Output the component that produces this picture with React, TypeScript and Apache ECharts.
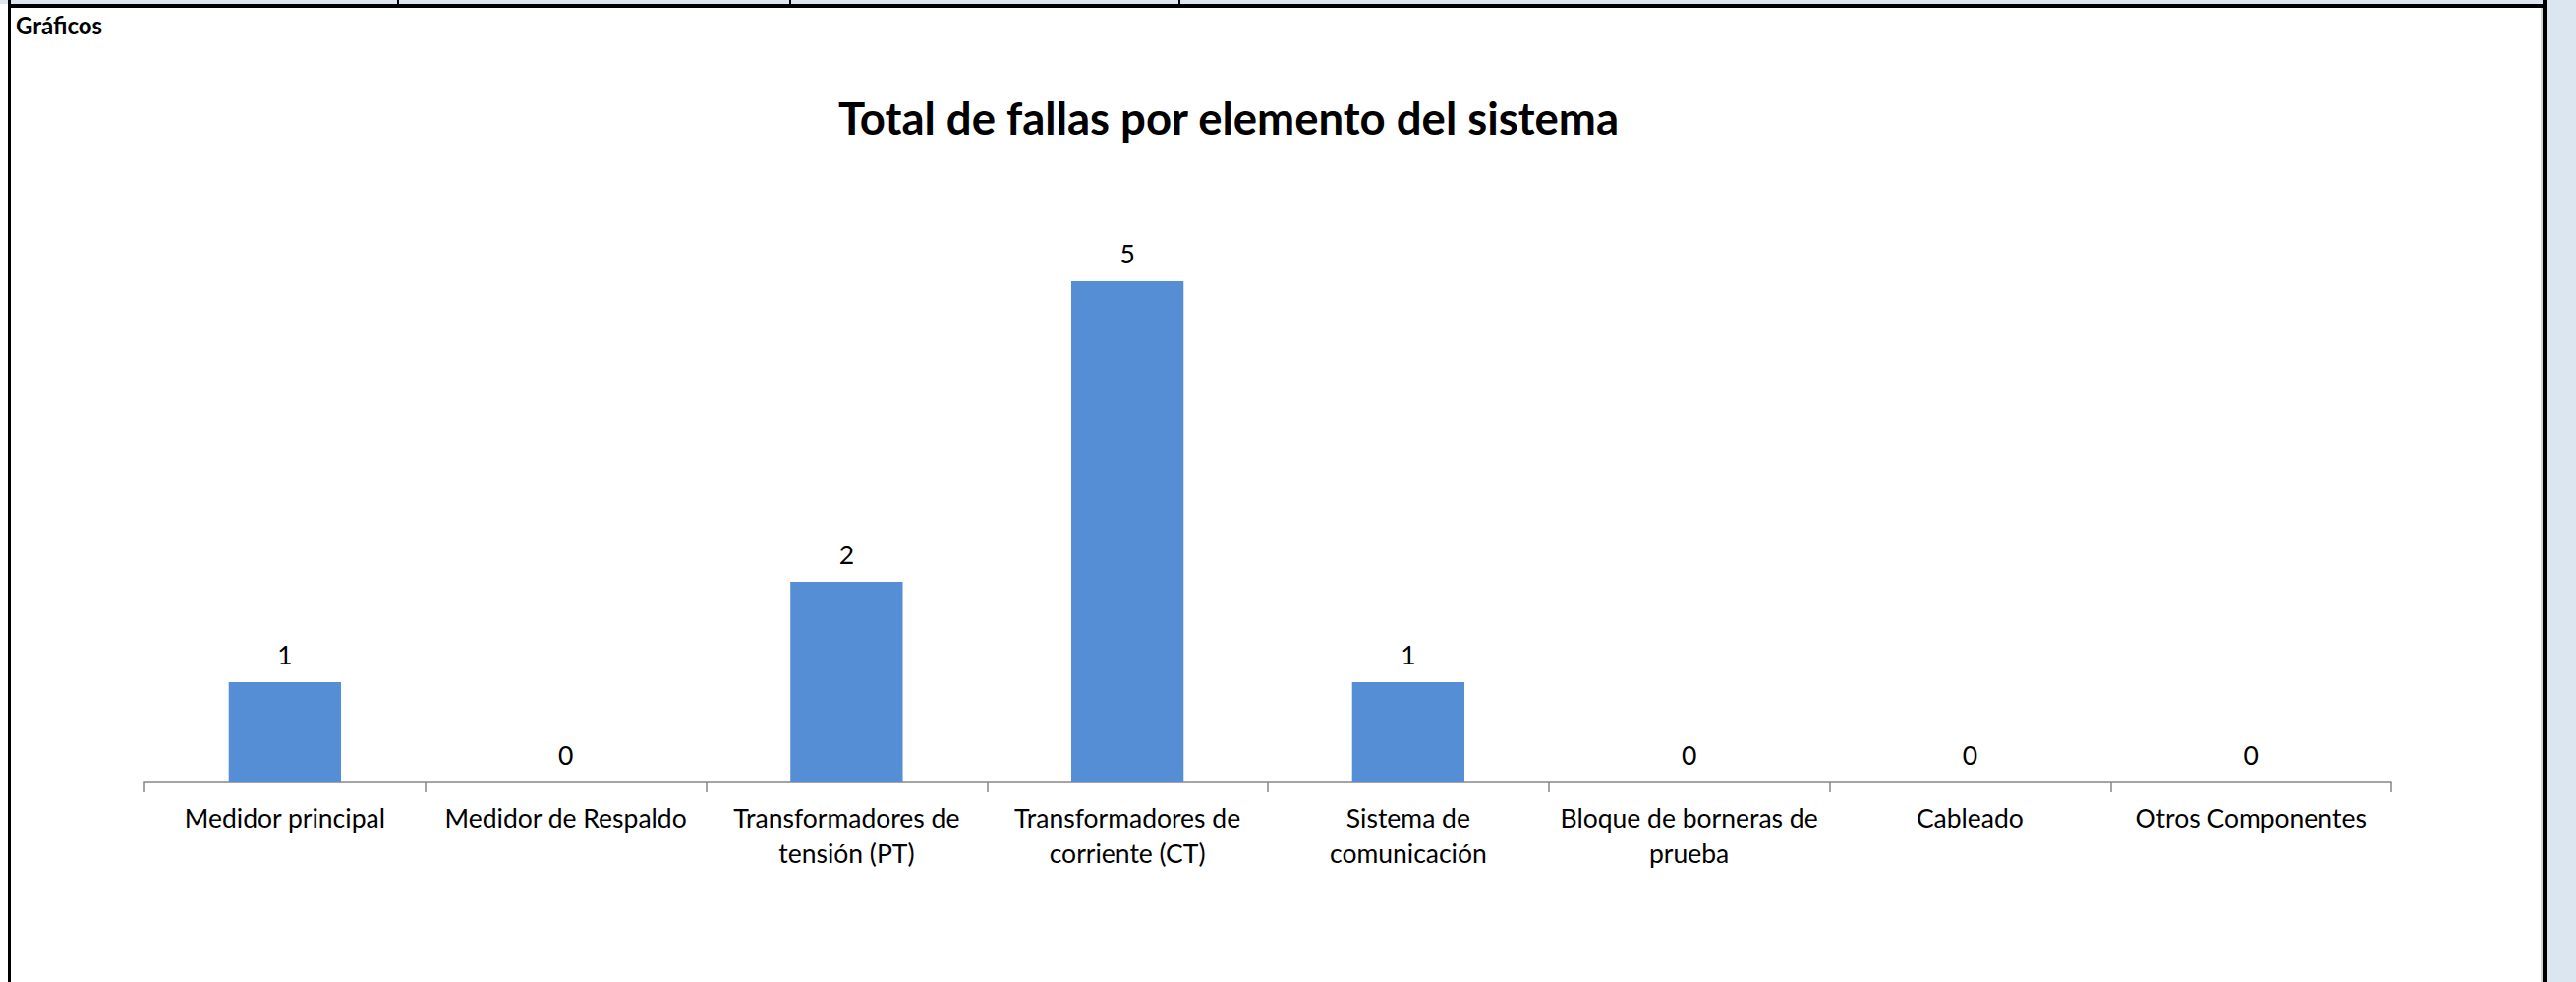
import React, { useEffect, useRef } from "react";
import * as echarts from "echarts";

const categories: string[] = [
  "Medidor principal",
  "Medidor de Respaldo",
  "Transformadores de\ntensión (PT)",
  "Transformadores de\ncorriente (CT)",
  "Sistema de\ncomunicación",
  "Bloque de borneras de\nprueba",
  "Cableado",
  "Otros Componentes",
];
const fallas: number[] = [1, 0, 2, 5, 1, 0, 0, 0];
const chartTitle = "Total de fallas por elemento del sistema";
const sectionLabel = "Gráficos";

const W = 2621;
const H = 999;
const FONT = "Lato, 'Open Sans', sans-serif";

export default function App() {
  const ref = useRef<HTMLDivElement>(null);

  useEffect(() => {
    if (!ref.current) return;
    const chart = echarts.init(ref.current, undefined, { renderer: "svg", width: W, height: H });
    chart.setOption({
      animation: false,
      backgroundColor: "#ffffff",
      title: {
        text: chartTitle,
        left: 1250,
        top: 96,
        padding: 0,
        textAlign: "center",
        textStyle: { fontFamily: FONT, fontSize: 45.5, fontWeight: "bold", color: "#000000" },
      },
      grid: { left: 147, right: 188, top: 184, bottom: 203, containLabel: false },
      xAxis: {
        type: "category",
        data: categories,
        axisLine: { lineStyle: { color: "#868686", width: 1.5 } },
        axisTick: { show: true, length: 10, lineStyle: { color: "#868686", width: 1.5 } },
        axisLabel: {
          interval: 0,
          margin: 18,
          fontFamily: FONT,
          fontSize: 26.5,
          lineHeight: 36,
          color: "#000000",
          align: "center",
        },
      },
      yAxis: { type: "value", min: 0, max: 6, interval: 1, show: false },
      series: [
        {
          type: "bar",
          data: fallas,
          barCategoryGap: "60%",
          itemStyle: { color: "#558ED5" },
          label: {
            show: true,
            position: "top",
            distance: 15,
            fontFamily: FONT,
            fontSize: 26.5,
            color: "#000000",
          },
        },
      ],
      graphic: [
        { type: "rect", shape: { x: 0, y: 0, width: 2592, height: 4 }, style: { fill: "#dce6f1" }, silent: true },
        { type: "rect", shape: { x: 404, y: 0, width: 2, height: 5 }, style: { fill: "#000000" }, silent: true },
        { type: "rect", shape: { x: 803, y: 0, width: 2, height: 5 }, style: { fill: "#000000" }, silent: true },
        { type: "rect", shape: { x: 1199, y: 0, width: 2, height: 5 }, style: { fill: "#000000" }, silent: true },
        { type: "rect", shape: { x: 8, y: 4, width: 2584, height: 4 }, style: { fill: "#000000" }, silent: true },
        { type: "rect", shape: { x: 8, y: 0, width: 3, height: H }, style: { fill: "#000000" }, silent: true },
        { type: "rect", shape: { x: 2585, y: 8, width: 2, height: H }, style: { fill: "#d4d4d4" }, silent: true },
        { type: "rect", shape: { x: 2587, y: 0, width: 5, height: H }, style: { fill: "#000000" }, silent: true },
        { type: "rect", shape: { x: 2592, y: 0, width: 29, height: H }, style: { fill: "#dce6f1" }, silent: true },
        {
          type: "text",
          x: 16,
          y: 25,
          style: {
            text: sectionLabel,
            fontFamily: FONT,
            fontSize: 24,
            fontWeight: "bold",
            fill: "#000000",
            verticalAlign: "middle",
            align: "left",
          },
          silent: true,
        },
      ],
    });
    return () => chart.dispose();
  }, []);

  return (
    <div style={{ position: "fixed", left: 0, top: 0, width: W, height: H, background: "#fff" }}>
      <div ref={ref} style={{ width: W, height: H }} />
    </div>
  );
}
